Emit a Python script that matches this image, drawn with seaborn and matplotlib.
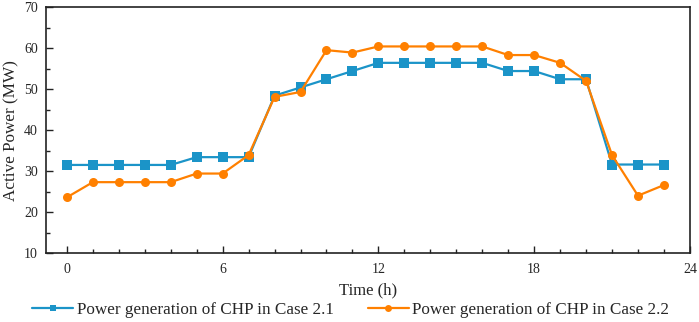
import numpy as np
import pandas as pd
import matplotlib
matplotlib.use("Agg")
import matplotlib.pyplot as plt
import seaborn as sns
from matplotlib.ticker import MultipleLocator

# Datos
horas = list(range(24))
chp_caso_21 = [31.5, 31.5, 31.5, 31.5, 31.5, 33.4, 33.4, 33.4, 48.4, 50.4,
               52.4, 54.4, 56.4, 56.4, 56.4, 56.4, 56.4, 54.4, 54.4, 52.4,
               52.4, 31.6, 31.6, 31.6]
chp_caso_22 = [23.6, 27.3, 27.3, 27.3, 27.3, 29.4, 29.4, 33.9, 48.1, 49.3,
               59.5, 58.9, 60.4, 60.4, 60.4, 60.4, 60.4, 58.3, 58.3, 56.4,
               52.0, 33.9, 24.0, 26.6]
etiquetas = ["Power generation of CHP in Case 2.1",
             "Power generation of CHP in Case 2.2"]

df = pd.DataFrame({
    "hora": horas * 2,
    "potencia": chp_caso_21 + chp_caso_22,
    "caso": [etiquetas[0]] * 24 + [etiquetas[1]] * 24,
})

sns.set_theme(style="ticks")
plt.rcParams["font.family"] = ["Liberation Serif", "DejaVu Serif"]

fig, ax = plt.subplots(figsize=(6.99, 3.22), dpi=100)
fig.subplots_adjust(left=0.066, right=0.987, bottom=0.214, top=0.978)

sns.lineplot(data=df, x="hora", y="potencia", hue="caso", style="caso",
             markers=["s", "o"], dashes=False, palette=["#1b94c8", "#ff8000"],
             linewidth=1.6, markersize=6.5, markeredgewidth=0, ax=ax,
             legend=True)

ax.set_xlim(-0.8, 24)
ax.set_ylim(10, 70)
ax.xaxis.set_major_locator(MultipleLocator(6))
ax.xaxis.set_minor_locator(MultipleLocator(1))
ax.yaxis.set_major_locator(MultipleLocator(10))
ax.yaxis.set_minor_locator(MultipleLocator(5))
ax.tick_params(which="both", direction="in", labelsize=10, color="#222222")
ax.tick_params(which="major", length=5, width=1)
ax.tick_params(which="minor", length=3, width=1)
ax.tick_params(axis="x", which="major", pad=7)
ax.tick_params(axis="y", which="major", pad=6)
for sp in ax.spines.values():
    sp.set_linewidth(1.2)
    sp.set_color("#222222")

ax.set_xlabel("Time (h)", fontsize=12, labelpad=5)
ax.set_ylabel("Active Power (MW)", fontsize=12.3, labelpad=3)

handles, labels = ax.get_legend_handles_labels()
ax.get_legend().remove()
for h in handles:
    h.set_markersize(5)
fig.legend(handles, labels, loc="center", bbox_to_anchor=(0.502, 0.036),
           ncol=2, frameon=False, fontsize=12.3, handlelength=2.4,
           handletextpad=0.2, columnspacing=2.0, borderaxespad=0,
           borderpad=0)

fig.savefig("out.png", dpi=100)
